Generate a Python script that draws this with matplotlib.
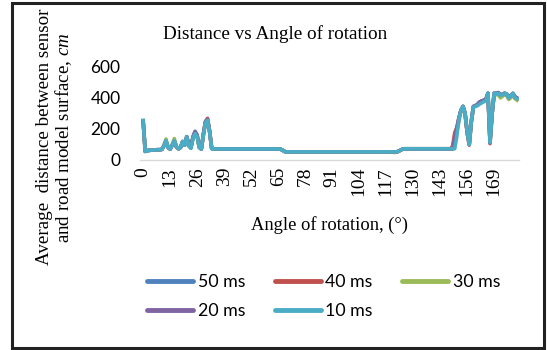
import matplotlib.pyplot as plt
from matplotlib.patches import Rectangle

# angle of rotation (degrees), one category per degree
angles = list(range(0, 181))

# average distance (cm), one list per sampling period
d_50ms = [
    250, 55, 60, 62, 63, 64, 65, 66, 66, 68, 90, 120, 80, 70, 95, 120, 85, 72, 80, 115,
    95, 150, 95, 80, 150, 185, 160, 85, 70, 165, 245, 262, 185, 74, 71, 71, 71, 71, 71, 71,
    71, 71, 71, 71, 71, 71, 71, 71, 71, 71, 71, 71, 71, 71, 71, 71, 71, 71, 71, 71,
    71, 71, 71, 71, 71, 71, 70, 64, 55, 52, 52, 52, 52, 52, 52, 52, 52, 52, 52, 52,
    52, 52, 52, 52, 52, 52, 52, 52, 52, 52, 52, 52, 52, 52, 52, 52, 52, 52, 52, 52,
    52, 52, 52, 52, 52, 52, 52, 52, 52, 52, 52, 52, 52, 52, 52, 52, 52, 52, 52, 52,
    52, 52, 52, 56, 64, 70, 72, 72, 72, 72, 72, 72, 72, 72, 72, 72, 72, 72, 72, 72,
    72, 72, 72, 72, 72, 72, 72, 72, 72, 72, 140, 195, 265, 320, 345, 300, 180, 105, 250, 345,
    350, 360, 375, 380, 385, 390, 430, 120, 300, 430, 430, 435, 420, 425, 430, 425, 405, 415, 430, 410,
    400,
]
d_40ms = [
    252, 55, 60, 62, 63, 64, 65, 66, 66, 68, 92, 122, 80, 70, 95, 122, 85, 72, 80, 118,
    95, 150, 92, 78, 145, 175, 155, 82, 70, 165, 248, 268, 185, 74, 71, 71, 71, 71, 71, 71,
    71, 71, 71, 71, 71, 71, 71, 71, 71, 71, 71, 71, 71, 71, 71, 71, 71, 71, 71, 71,
    71, 71, 71, 71, 71, 71, 70, 64, 55, 52, 52, 52, 52, 52, 52, 52, 52, 52, 52, 52,
    52, 52, 52, 52, 52, 52, 52, 52, 52, 52, 52, 52, 52, 52, 52, 52, 52, 52, 52, 52,
    52, 52, 52, 52, 52, 52, 52, 52, 52, 52, 52, 52, 52, 52, 52, 52, 52, 52, 52, 52,
    52, 52, 52, 56, 64, 70, 72, 72, 72, 72, 72, 72, 72, 72, 72, 72, 72, 72, 72, 72,
    72, 72, 72, 72, 72, 72, 72, 72, 72, 90, 175, 210, 270, 320, 345, 295, 175, 95, 245, 340,
    348, 355, 370, 378, 382, 388, 428, 105, 295, 428, 425, 430, 415, 420, 428, 420, 400, 410, 425, 405,
    398,
]
d_30ms = [
    248, 55, 60, 62, 63, 64, 65, 66, 66, 68, 95, 135, 82, 70, 100, 138, 88, 72, 80, 120,
    95, 148, 90, 76, 140, 168, 150, 80, 70, 162, 242, 258, 182, 74, 71, 71, 71, 71, 71, 71,
    71, 71, 71, 71, 71, 71, 71, 71, 71, 71, 71, 71, 71, 71, 71, 71, 71, 71, 71, 71,
    71, 71, 71, 71, 71, 71, 70, 64, 55, 52, 52, 52, 52, 52, 52, 52, 52, 52, 52, 52,
    52, 52, 52, 52, 52, 52, 52, 52, 52, 52, 52, 52, 52, 52, 52, 52, 52, 52, 52, 52,
    52, 52, 52, 52, 52, 52, 52, 52, 52, 52, 52, 52, 52, 52, 52, 52, 52, 52, 52, 52,
    52, 48, 50, 56, 64, 70, 72, 72, 72, 72, 72, 72, 72, 72, 72, 72, 72, 72, 72, 72,
    72, 72, 72, 72, 72, 72, 72, 72, 72, 72, 130, 185, 245, 315, 342, 300, 180, 100, 250, 342,
    348, 355, 368, 375, 382, 388, 428, 118, 300, 425, 420, 420, 400, 410, 420, 415, 390, 400, 420, 395,
    385,
]
d_20ms = [
    252, 55, 60, 62, 63, 64, 65, 66, 66, 68, 90, 122, 80, 70, 95, 122, 85, 72, 80, 118,
    95, 150, 95, 82, 150, 182, 158, 84, 70, 165, 245, 260, 185, 74, 71, 71, 71, 71, 71, 71,
    71, 71, 71, 71, 71, 71, 71, 71, 71, 71, 71, 71, 71, 71, 71, 71, 71, 71, 71, 71,
    71, 71, 71, 71, 71, 71, 70, 64, 55, 52, 52, 52, 52, 52, 52, 52, 52, 52, 52, 52,
    52, 52, 52, 52, 52, 52, 52, 52, 52, 52, 52, 52, 52, 52, 52, 52, 52, 52, 52, 52,
    52, 52, 52, 52, 52, 52, 52, 52, 52, 52, 52, 52, 52, 52, 52, 52, 52, 52, 52, 52,
    52, 52, 52, 56, 64, 70, 72, 72, 72, 72, 72, 72, 72, 72, 72, 72, 72, 72, 72, 72,
    72, 72, 72, 72, 72, 72, 72, 72, 72, 72, 145, 200, 268, 320, 345, 300, 178, 102, 248, 345,
    350, 358, 372, 380, 385, 390, 430, 115, 300, 430, 428, 432, 418, 422, 430, 425, 402, 412, 428, 405,
    398,
]
d_10ms = [
    255, 55, 60, 62, 63, 64, 65, 66, 66, 68, 90, 125, 80, 70, 95, 125, 85, 72, 80, 120,
    95, 150, 90, 75, 140, 170, 150, 80, 70, 160, 240, 255, 180, 72, 71, 71, 71, 71, 71, 71,
    71, 71, 71, 71, 71, 71, 71, 71, 71, 71, 71, 71, 71, 71, 71, 71, 71, 71, 71, 71,
    71, 71, 71, 71, 71, 71, 70, 64, 55, 52, 52, 52, 52, 52, 52, 52, 52, 52, 52, 52,
    52, 52, 52, 52, 52, 52, 52, 52, 52, 52, 52, 52, 52, 52, 52, 52, 52, 52, 52, 52,
    52, 52, 52, 52, 52, 52, 52, 52, 52, 52, 52, 52, 52, 52, 52, 52, 52, 52, 52, 52,
    52, 52, 52, 56, 64, 70, 72, 72, 72, 72, 72, 72, 72, 72, 72, 72, 72, 72, 72, 72,
    72, 72, 72, 72, 72, 72, 72, 72, 72, 72, 72, 150, 260, 320, 345, 300, 180, 100, 250, 340,
    345, 350, 360, 368, 375, 382, 430, 112, 300, 430, 425, 430, 415, 420, 430, 425, 400, 410, 430, 400,
    395,
]

series = [
    ("50 ms", d_50ms, "#4F81BD"),
    ("40 ms", d_40ms, "#C0504D"),
    ("30 ms", d_30ms, "#9BBB59"),
    ("20 ms", d_20ms, "#8064A2"),
    ("10 ms", d_10ms, "#4BACC6"),
]

x_ticks = list(range(0, 181, 13))
y_ticks = [0, 200, 400, 600]

serif = "Liberation Serif"
sans = "Lato"

plt.rcParams["mathtext.fontset"] = "custom"
plt.rcParams["mathtext.it"] = "Liberation Serif:italic"
plt.rcParams["mathtext.rm"] = "Liberation Serif"

fig = plt.figure(figsize=(5.47, 3.5), dpi=100)
ax = fig.add_axes([0.256, 0.543, 0.693, 0.266])

lines = {}
for name, vals, col in series:
    lines[name], = ax.plot(angles, vals, color=col, lw=2.6, label=name,
                           solid_joinstyle="round")

ax.set_xlim(-1.5, 181)
ax.set_ylim(0, 600)
ax.set_xticks(x_ticks)
ax.set_xticklabels([str(t) for t in x_ticks], rotation=90, fontfamily=serif, fontsize=14)
ax.set_yticks(y_ticks)
ax.set_yticklabels([str(t) for t in y_ticks], fontfamily=sans, fontsize=12.5)
ax.tick_params(length=0, pad=5)
ax.tick_params(axis="y", pad=14)

for s in ["top", "right", "left"]:
    ax.spines[s].set_visible(False)
ax.spines["bottom"].set_color("#d9d9d9")
ax.spines["bottom"].set_linewidth(1)

fig.text(0.503, 0.903, "Distance vs Angle of rotation", ha="center", va="center",
         fontfamily=serif, fontsize=13.8)
fig.text(0.603, 0.357, "Angle of rotation, (\u00b0)", ha="center", va="center",
         fontfamily=serif, fontsize=13.3)
fig.text(0.082, 0.608, "Average  distance between sensor", rotation=90,
         ha="center", va="center", fontfamily=serif, fontsize=13.7)
fig.text(0.116, 0.608, "and road model surface, $cm$", rotation=90,
         ha="center", va="center", fontfamily=serif, fontsize=13.7)

# legend fills column by column, so order handles to read row by row
order = ["50 ms", "20 ms", "40 ms", "10 ms", "30 ms"]
leg = fig.legend([lines[n] for n in order], order, loc="center",
                 bbox_to_anchor=(0.592, 0.152), ncol=3, frameon=False,
                 prop={"family": sans, "size": 12.8}, handlelength=2.6,
                 handletextpad=0.25, columnspacing=1.65, labelspacing=0.75)
for h in leg.get_lines():
    h.set_linewidth(3.5)
    h.set_solid_capstyle("round")

fig.patches.append(Rectangle((12 / 547, 2 / 350), 532 / 547, 345 / 350,
                             transform=fig.transFigure, fill=False,
                             edgecolor="#222222", lw=2.2))

fig.savefig("out.png", dpi=100)
